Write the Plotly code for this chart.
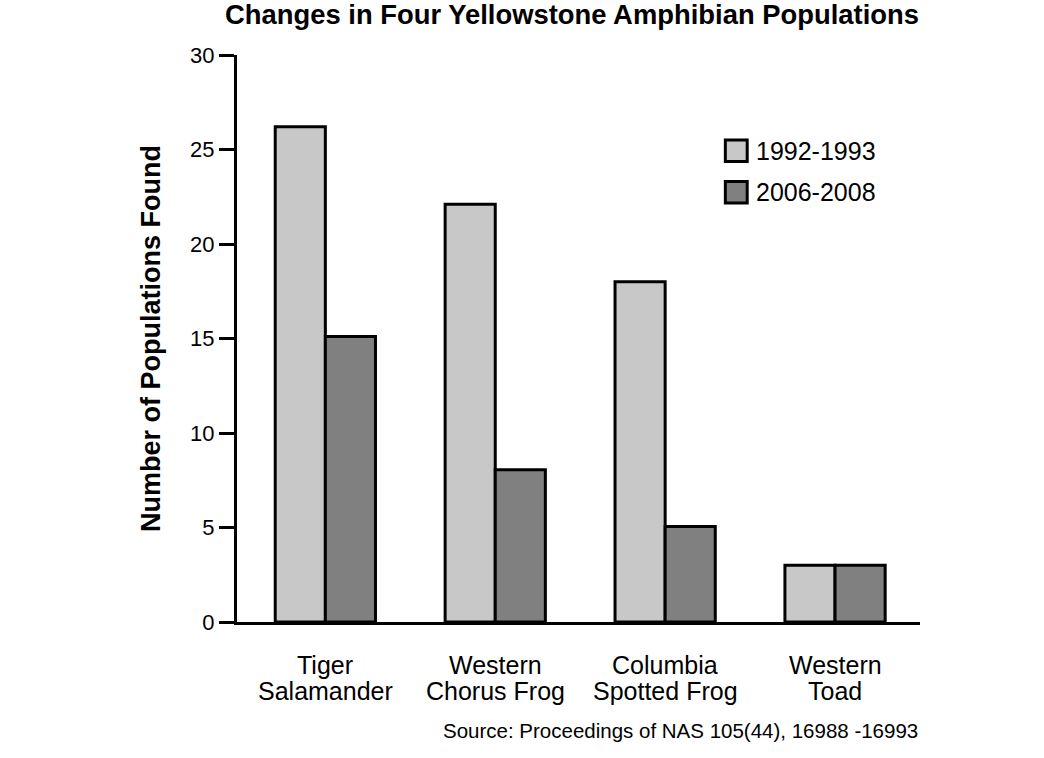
import plotly.graph_objects as go

# dados
species = ["Tiger<br>Salamander", "Western<br>Chorus Frog", "Columbia<br>Spotted Frog", "Western<br>Toad"]
pop_1992 = [26.2, 22.1, 18.0, 3.0]
pop_2006 = [15.1, 8.05, 5.05, 3.0]
series_names = ["1992-1993", "2006-2008"]
series_colors = ["#c8c8c8", "#808080"]

FONT = "Arial, Liberation Sans, sans-serif"

fig = go.Figure()
for name, vals, col in zip(series_names, [pop_1992, pop_2006], series_colors):
    fig.add_trace(go.Bar(
        x=species, y=vals, name=name,
        marker=dict(color=col, line=dict(color="black", width=3)),
        showlegend=False
    ))

# rótulos das categorias em duas linhas, com espaçamento mais apertado
for sp in species:
    for line, yl in zip(sp.split("<br>"), [-0.0755, -0.1215]):
        fig.add_annotation(xref="x", yref="paper", x=sp, y=yl, text=line,
                           showarrow=False, xanchor="center", yanchor="middle",
                           font=dict(family=FONT, size=25, color="black"))

# legenda desenhada à mão (quadrados maiores que os do plotly)
legend_y = [0.831, 0.758]
for name, col, yc in zip(series_names, series_colors, legend_y):
    fig.add_shape(type="rect", xref="paper", yref="paper",
                  x0=0.715, x1=0.747, y0=yc - 0.019, y1=yc + 0.019,
                  fillcolor=col, line=dict(color="black", width=3))
    fig.add_annotation(xref="paper", yref="paper", x=0.757, y=yc, text=name,
                       showarrow=False, xanchor="left", yanchor="middle",
                       font=dict(family=FONT, size=25, color="black"))

fig.add_annotation(xref="paper", yref="paper", x=0.49, y=1.072,
                   text="<b>Changes in Four Yellowstone Amphibian Populations</b>",
                   showarrow=False, xanchor="center", yanchor="middle",
                   font=dict(family=FONT, size=27.4, color="black"))

fig.add_annotation(xref="paper", yref="paper", x=1.0, y=-0.192,
                   text="Source: Proceedings of NAS 105(44), 16988 -16993",
                   showarrow=False, xanchor="right", yanchor="middle",
                   font=dict(family=FONT, size=20.5, color="black"))

fig.update_layout(
    width=1044, height=758,
    margin=dict(l=237, r=124, t=55, b=136, autoexpand=False),
    paper_bgcolor="white", plot_bgcolor="white",
    barmode="group", bargap=0.41, bargroupgap=0,
    font=dict(family=FONT, size=22, color="black"),
    xaxis=dict(
        range=[-0.52, 3.5], showline=True, linecolor="black", linewidth=3,
        ticks="", showgrid=False, zeroline=False, showticklabels=False
    ),
    yaxis=dict(
        range=[0, 30], tickvals=[0, 5, 10, 15, 20, 25, 30],
        showline=True, linecolor="black", linewidth=3,
        ticks="outside", ticklen=15, tickwidth=3, tickcolor="black",
        showgrid=False, zeroline=False, tickfont=dict(size=22),
        title=dict(text="<b>Number of Populations Found</b>", font=dict(size=27), standoff=22)
    ),
)

# tira a margem do body para a figura começar no canto da janela
fig.write_html("out.html", config={"displayModeBar": False},
               post_script="document.body.style.margin='0';")
